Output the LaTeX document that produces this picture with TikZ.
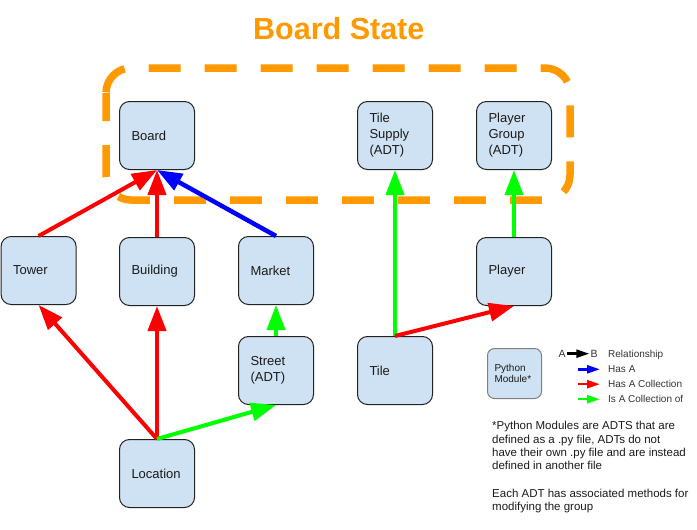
\documentclass[tikz,border=0pt]{standalone}
\usepackage{fontspec}
\setmainfont{Liberation Sans}
\usetikzlibrary{arrows.meta}
\definecolor{boxfill}{HTML}{CFE2F3}
\definecolor{boxline}{HTML}{222222}
\definecolor{orng}{HTML}{FF9900}
\definecolor{rd}{HTML}{FF0000}
\definecolor{bl}{HTML}{0000FF}
\definecolor{gr}{HTML}{00FF00}
\definecolor{txt}{HTML}{1A1A1A}
\definecolor{legline}{HTML}{808080}
\definecolor{legtxt}{HTML}{333333}
\begin{document}
\begin{tikzpicture}[x=1pt,y=-1pt,
  modbox/.style={draw=boxline, line width=1pt, fill=boxfill, rounded corners=10pt,
    minimum width=75pt, minimum height=68pt, inner xsep=12pt, inner ysep=0pt,
    text width=51pt, align=left, anchor=north west,
    font=\fontsize{13}{16}\selectfont, text=txt},
  legbox/.style={draw=legline, line width=1pt, fill=boxfill, rounded corners=7pt,
    minimum width=54pt, minimum height=50pt, inner xsep=7pt, inner ysep=0pt,
    text width=40pt, align=left, anchor=north west,
    font=\fontsize{10}{11.7}\selectfont, text=txt},
  bigarrow/.style={line width=4pt, -{Triangle[length=25pt,width=18pt]}},
  legarrow/.style={line width=2.5pt, -{Triangle[length=13pt,width=8pt]}},
  legtext/.style={font=\fontsize{10}{12}\selectfont, text=legtxt, anchor=base west, inner sep=0pt},
  notetext/.style={font=\fontsize{11.5}{13.3}\selectfont, text=txt, align=left, anchor=north west, inner sep=0pt},
  frame/.style={orng, line width=7.5pt, dash pattern=on 32pt off 24pt, dash phase=55.2pt, rounded corners=25pt}
]
\useasboundingbox (0,0) rectangle (697,530);

% title
\node[font=\fontsize{30.5}{36}\selectfont\bfseries, text=orng, anchor=base] (title) at (338.8,39) {Board State};

% dashed frame
\draw[frame] (106,93) -- (106,68) -- (570,68) -- (570,200) -- (106,200) -- (106,93);

% modules
\node[modbox] (board) at (119,101) {Board};
\node[modbox] (tilesupply) at (357,101) {Tile\\Supply\\(ADT)};
\node[modbox] (playergroup) at (476,101) {Player\\Group\\(ADT)};
\node[modbox] (tower) at (0.6,236) {Tower};
\node[modbox] (building) at (119,237) {Building};
\node[modbox] (market) at (238,236) {Market};
\node[modbox] (player) at (476,237) {Player};
\node[modbox] (street) at (238,336) {Street\\(ADT)};
\node[modbox] (tile) at (357,336) {Tile};
\node[modbox] (location) at (119,439) {Location};

% connectors
\draw[bigarrow, rd] (tower.north) -- (board.south);
\draw[bigarrow, rd] (building.north) -- (board.south);
\draw[bigarrow, bl, line width=4.5pt] (market.north) -- (board.south);
\draw[bigarrow, rd] (location.north) -- (tower.south);
\draw[bigarrow, rd] (location.north) -- (building.south);
\draw[bigarrow, gr] (location.north) -- (street.south);
\draw[bigarrow, gr] (street.north) -- (market.south);
\draw[bigarrow, gr] (tile.north) -- (tilesupply.south);
\draw[bigarrow, rd] (tile.north) -- (player.south);
\draw[bigarrow, gr] (player.north) -- (playergroup.south);

% legend
\node[legbox] (pymod) at (487,348) {Python\\Module*};
\node[font=\fontsize{10.5}{12}\selectfont, text=legtxt, anchor=base, inner sep=1pt] (legA) at (562,357.3) {A};
\node[font=\fontsize{10.5}{12}\selectfont, text=legtxt, anchor=base, inner sep=1pt] (legB) at (594,357.3) {B};
\draw[legarrow, black] (legA) -- (legB);
\coordinate (ha1) at (578,369.3); \coordinate (ha2) at (600,369.3);
\coordinate (hc1) at (578,384.2); \coordinate (hc2) at (600,384.2);
\coordinate (ic1) at (578,399.2); \coordinate (ic2) at (600,399.2);
\draw[legarrow, bl] (ha1) -- (ha2);
\draw[legarrow, rd] (hc1) -- (hc2);
\draw[legarrow, gr] (ic1) -- (ic2);
\node[legtext] (lrel) at (608,357.3) {Relationship};
\node[legtext] (lhas) at (608,372.3) {Has A};
\node[legtext] (lhc) at (608,387.3) {Has A Collection};
\node[legtext] (lic) at (608,402.3) {Is A Collection of};

\node[notetext] (note1) at (492,421.3) {*Python Modules are ADTS that are\\defined as a .py file, ADTs do not\\have their own .py file and are instead\\defined in another file};
\node[notetext] (note2) at (492,488.6) {Each ADT has associated methods for\\modifying the group};
\end{tikzpicture}
\end{document}
